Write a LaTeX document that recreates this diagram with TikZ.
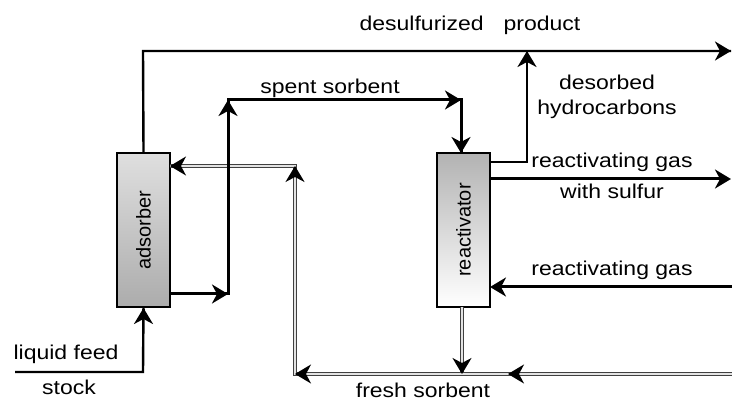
\documentclass[tikz,border=0pt]{standalone}
\usepackage{fontspec}
\usepackage{graphicx}
\setmainfont{Liberation Sans}[FakeStretch=1.15]
\newfontfamily\upfont{Liberation Sans}
\usetikzlibrary{arrows.meta}
\tikzset{
  tip/.style={-{Stealth[length=16pt,width=19pt,inset=5pt]}},
  flow/.style={line width=3pt,line join=miter},
  thinflow/.style={line width=2.4pt,line join=miter},
  sorbent/.style={draw=gray!50!black,double=gray!22,line width=1.3pt,double distance=1.8pt},
  vessel/.style={draw,line width=2pt,minimum width=53pt,minimum height=154pt,inner sep=0pt},
  lbl/.style={font=\fontsize{20}{24}\selectfont,inner sep=0pt,align=center}
}
\begin{document}
\begin{tikzpicture}[x=1pt,y=-1pt]
\useasboundingbox (0,0) rectangle (732,403);

% vessels
\node[vessel,top color=gray!25,bottom color=gray!65] (ads) at (143.5,230)
  {\rotatebox{90}{\upfont\fontsize{20}{24}\selectfont adsorber}};
\node[vessel,top color=gray!60,bottom color=white] (rea) at (463.5,230)
  {\rotatebox{90}{\upfont\fontsize{20}{24}\selectfont reactivator}};

% corner points
\coordinate (feedIn) at (15,372);
\coordinate (feedC) at (143,372);
\coordinate (prodC) at (143,51);
\coordinate (prodOut) at (731,51);
\coordinate (desA) at (490,162);
\coordinate (desB) at (527,162);
\coordinate (desC) at (527,51);
\coordinate (sulfA) at (490,179);
\coordinate (sulfOut) at (731,179);
\coordinate (gasIn) at (732,287);
\coordinate (gasEnd) at (490,287);
\coordinate (spA) at (170,294);
\coordinate (spB) at (228,294);
\coordinate (spC) at (228,100);
\coordinate (spD) at (461,100);
\coordinate (spE) at (461,153);
\coordinate (frA) at (462,307);
\coordinate (frB) at (462,374);
\coordinate (frIn) at (732,374);
\coordinate (frMid) at (508,374);
\coordinate (frC) at (295,374);
\coordinate (frD) at (295,166);
\coordinate (frE) at (170,166);

% fresh sorbent (double lines)
\draw[sorbent] (frA) -- (frB);
\draw[sorbent] (frIn) -- (frC) -- (frD) -- (frE);
\draw[tip,line width=1.6pt] ([yshift=1pt]frB) -- (frB);
\draw[tip,line width=1.6pt] ([xshift=1pt]frMid) -- (frMid);
\draw[tip,line width=1.6pt] ([xshift=1pt]frC) -- (frC);
\draw[tip,line width=1.6pt] ([yshift=-1pt]frD) -- (frD);
\draw[tip,line width=1.6pt] ([xshift=1pt]frE) -- (frE);

% liquid feed and product
\draw[thinflow] (feedIn) -- (feedC) -- (ads.south);
\draw[tip,thinflow] ([yshift=-1pt]ads.south) -- (ads.south);
\draw[thinflow] (ads.north) -- (prodC) -- (prodOut);
\draw[tip,thinflow] ([xshift=-1pt]prodOut) -- (prodOut);

% desorbed hydrocarbons
\draw[thinflow] (desA) -- (desB) -- ([yshift=-1pt]desC);
\draw[tip,thinflow] ([yshift=-1pt]desC) -- (desC);

% reactivating gas
\draw[flow,tip] (sulfA) -- (sulfOut);
\draw[flow,tip] (gasIn) -- (gasEnd);

% spent sorbent
\draw[flow] (spA) -- (spB) -- (spC) -- (spD) -- (spE);
\draw[tip,flow] ([xshift=-1pt]spB) -- (spB);
\draw[tip,flow] ([yshift=-1pt]spC) -- (spC);
\draw[tip,flow] ([xshift=-1pt]spD) -- (spD);
\draw[tip,flow] ([yshift=1pt]spE) -- (spE);

% labels
\node[lbl] (tProd) at (470,25) {desulfurized\hspace{1em}product};
\node[lbl] (tDes) at (607,97) {desorbed\\[1pt]hydrocarbons};
\node[lbl] (tSpent) at (330,88) {spent sorbent};
\node[lbl] (tSulf) at (612,162) {reactivating gas};
\node[lbl] (tSulf2) at (612,191) {with sulfur};
\node[lbl] (tGas) at (612,270) {reactivating gas};
\node[lbl] (tFresh) at (423,390) {fresh sorbent};
\node[lbl] (tFeed) at (66,354) {liquid feed};
\node[lbl] (tFeed2) at (69,387) {stock};
\end{tikzpicture}
\end{document}
